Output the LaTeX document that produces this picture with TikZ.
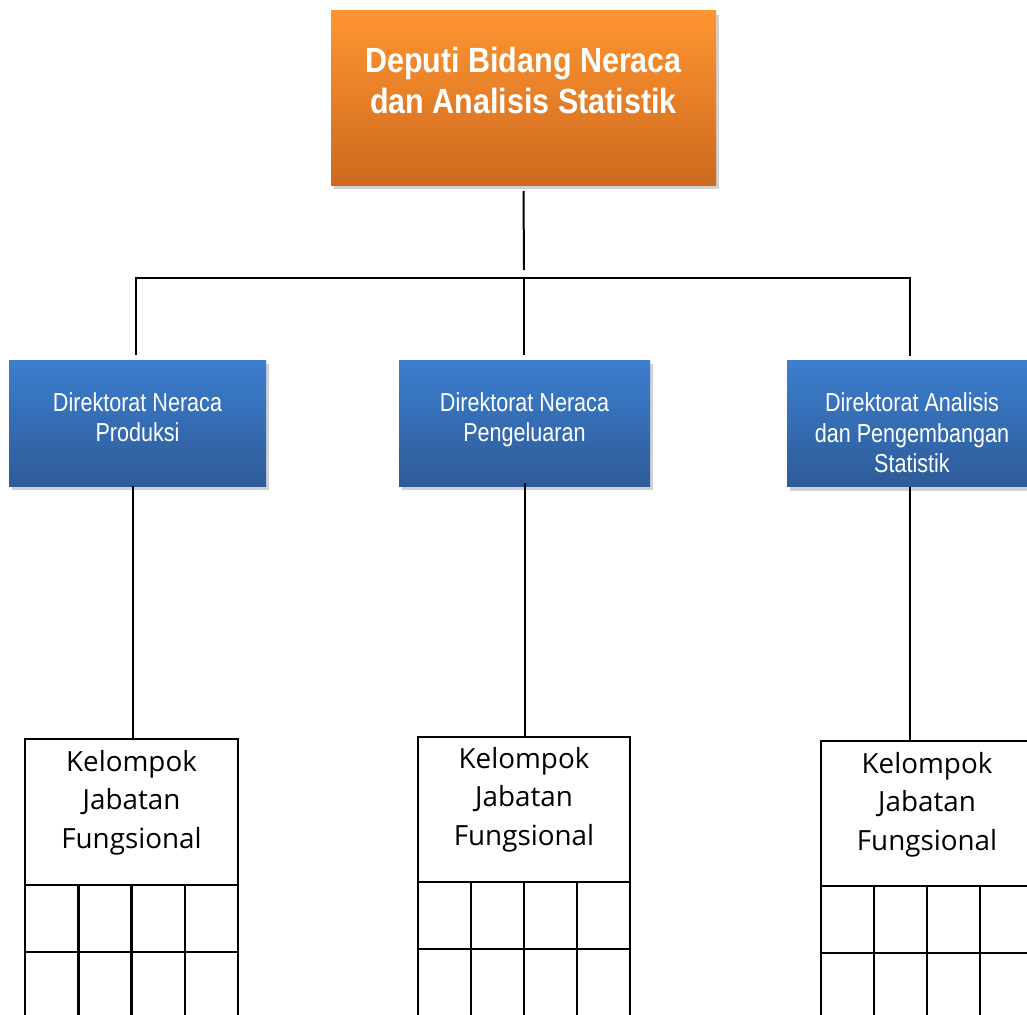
\documentclass[tikz,border=0pt]{standalone}
\usepackage{fontspec}
\setmainfont{Liberation Sans}
\newfontfamily\titlefont[FakeStretch=0.87]{Liberation Sans}
\newfontfamily\dirfont[FakeStretch=0.83]{Liberation Sans}
\newfontfamily\kjffont{Open Sans}
\usetikzlibrary{shadows,calc}
\definecolor{orTop}{HTML}{FF9531}
\definecolor{orBot}{HTML}{CD691E}
\definecolor{blTop}{HTML}{3C7ECF}
\definecolor{blBot}{HTML}{2E5B98}
\newcommand\kjfgrid[1]{%
  \foreach \f in {0,0.25,0.5,0.75,1}{%
    \draw[cell] ($(#1.south west)!\f!(#1.south east)$) -- ++(0,150);}
  \draw[cell] ($(#1.south west)+(0,67)$) -- ($(#1.south east)+(0,67)$);
}
\begin{document}
\begin{tikzpicture}[x=1pt,y=-1pt,
  boxshadow/.style={drop shadow={shadow xshift=3pt,shadow yshift=-4pt,fill=black,opacity=0.18}},
  orangebox/.style={rectangle,draw=none,top color=orTop,bottom color=orBot,boxshadow,
    minimum width=385pt,minimum height=174pt,outer sep=0pt},
  bluebox/.style={rectangle,draw=none,top color=blTop,bottom color=blBot,boxshadow,
    minimum height=126pt,outer sep=0pt},
  titletxt/.style={text=white,font=\titlefont\bfseries\fontsize{35}{41}\selectfont,
    align=center,inner sep=0pt,anchor=north},
  dirtxt/.style={text=white,font=\dirfont\fontsize{26}{30.5}\selectfont,
    align=center,inner sep=0pt,anchor=north},
  kjfbox/.style={rectangle,draw=black,line width=2.5pt,fill=white,outer sep=0pt,
    minimum width=213pt,minimum height=146pt},
  kjftxt/.style={text=black,font=\kjffont\fontsize{27.8}{38.5}\selectfont,
    align=center,inner sep=0pt,anchor=north},
  cell/.style={draw=black,line width=2.5pt},
  conn/.style={draw=black,line width=2pt}]
\useasboundingbox (0,0) rectangle (1027,1014);
\clip (0,0) rectangle (1027,1014);

% top
\node[orangebox] (dep) at (523.5,98) {};
\node[titletxt] (deptxt) at (523.5,47) {Deputi Bidang Neraca\\dan Analisis Statistik};

% directorates
\node[bluebox,minimum width=257pt] (dir1) at (137.5,423) {};
\node[dirtxt] (dir1t) at (137.5,392) {Direktorat Neraca\\Produksi};
\node[bluebox,minimum width=251pt] (dir2) at (524.5,423) {};
\node[dirtxt] (dir2t) at (524.5,392) {Direktorat Neraca\\Pengeluaran};
\node[bluebox,minimum width=250pt] (dir3) at (912,423.5) {};
\node[dirtxt] (dir3t) at (912,392.5) {Direktorat Analisis\\dan Pengembangan\\Statistik};

% kelompok jabatan fungsional
\node[kjfbox] (kjf1) at (131.5,812) {};
\node[kjftxt] (kjf1t) at (131.5,750) {Kelompok\\Jabatan\\Fungsional};
\node[kjfbox,minimum width=212pt,minimum height=145pt] (kjf2) at (524,809.5) {};
\node[kjftxt] (kjf2t) at (524,747) {Kelompok\\Jabatan\\Fungsional};
\node[kjfbox,minimum width=212pt,minimum height=145pt] (kjf3) at (927,813.5) {};
\node[kjftxt] (kjf3t) at (927,752) {Kelompok\\Jabatan\\Fungsional};
\kjfgrid{kjf1}
\kjfgrid{kjf2}
\kjfgrid{kjf3}

% connectors
\coordinate (jt) at (524,270);
\coordinate (hl) at (136,278);
\coordinate (hm) at (524,278);
\coordinate (hr) at (910,278);
\draw[conn] ([yshift=-6pt]dep.south) -- (jt);
\draw[conn,shorten <=5pt,shorten >=5pt] (hl |- dir1.north) -- (hl) -- (hr) -- (hr |- dir3.north);
\draw[conn,shorten >=5pt] (hm) -- (hm |- dir2.north);
\coordinate (d1b) at (133,486);
\draw[conn] (d1b) -- (d1b |- kjf1.north);
\draw[conn] ([yshift=3pt]dir2.south) -- (dir2.south |- kjf2.north);
\draw[conn] ([xshift=-2pt]dir3.south) -- ([xshift=-2pt]dir3.south |- kjf3.north);
\end{tikzpicture}
\end{document}
